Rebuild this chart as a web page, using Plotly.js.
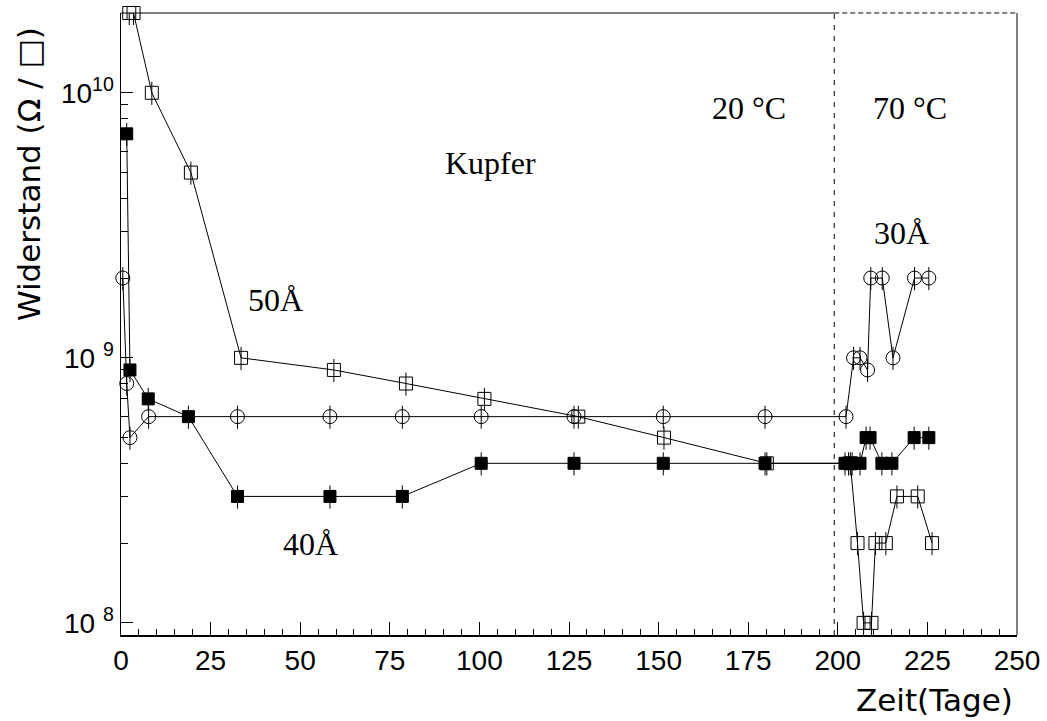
<!DOCTYPE html>
<html>
<head>
<meta charset="utf-8">
<script src="https://cdn.plot.ly/plotly-3.0.1.min.js"></script>
<style>html,body{margin:0;padding:0;background:#fff;}#chart{width:1047px;height:721px;}</style>
</head>
<body>
<div id="chart"></div>
<script>
// ---- data ----
var days50 = [2.3, 3.5, 8.6, 19.5, 33.5, 59.4, 79.5, 101.4, 127.6, 151.5, 180.2, 203.5, 205.5, 207.2, 209.4, 210.5, 213.4, 216.5, 222.3, 226.3];
var res50  = [2e10, 2e10, 1e10, 5e9, 1e9, 9e8, 8e8, 7e8, 6e8, 5e8, 4e8, 4e8, 2e8, 1e8, 1e8, 2e8, 2e8, 3e8, 3e8, 2e8];

var days30 = [0.5, 1.6, 2.5, 7.7, 32.5, 58.3, 78.5, 100.5, 126.4, 151.3, 179.7, 202.3, 204.4, 206.2, 208.3, 209.2, 212.4, 215.4, 221.4, 225.4];
var res30  = [2e9, 8e8, 5e8, 6e8, 6e8, 6e8, 6e8, 6e8, 6e8, 6e8, 6e8, 6e8, 1e9, 1e9, 9e8, 2e9, 2e9, 1e9, 2e9, 2e9];

var days40 = [1.6, 2.5, 7.6, 18.8, 32.5, 58.3, 78.5, 100.5, 126.4, 151.3, 179.7, 202.0, 203.0, 204.0, 206.2, 207.9, 209.0, 212.3, 215.1, 221.3, 225.4];
var res40  = [7e9, 9e8, 7e8, 6e8, 3e8, 3e8, 3e8, 4e8, 4e8, 4e8, 4e8, 4e8, 4e8, 4e8, 4e8, 5e8, 5e8, 4e8, 4e8, 5e8, 5e8];

var errPercent = 10;
var xTickVals = [0, 25, 50, 75, 100, 125, 150, 175, 200, 225, 250];
var yTickVals = [1e8, 1e9, 1e10];
var yTickText = ['10 <sup>8</sup>', '10 <sup>9</sup>', '10<sup>10</sup>'];
var tempSwitchDay = 199;

// ---- helpers ----
var L = 121, R = 30, T = 13, B = 86, W = 1047, H = 721;
var pw = W - L - R, ph = H - T - B;
function px(x) { return (x - L) / pw; }
function py(y) { return (H - B - y) / ph; }

var yMinor = [];
[1e7, 1e8, 1e9, 1e10].forEach(function (d) {
  for (var k = 2; k <= 9; k++) yMinor.push(k * d);
});

function series(x, y, symbol, size) {
  return {
    x: x, y: y, type: 'scatter', mode: 'lines+markers', cliponaxis: false,
    line: {color: '#000', width: 1},
    marker: {symbol: symbol, size: size, color: '#000', line: {color: '#000', width: 1}},
    error_y: {type: 'percent', value: errPercent, symmetric: true, color: '#000', thickness: 1, width: 0},
    hoverinfo: 'x+y'
  };
}

var data = [
  series(days50, res50, 'square-open', 13),
  series(days30, res30, 'circle-open', 14),
  series(days40, res40, 'square', 12)
];

var serif = {family: 'Liberation Serif, Times New Roman, serif', size: 32, color: '#000'};
function lab(text, x, y) {
  return {text: text, xref: 'paper', yref: 'paper', x: px(x), y: py(y),
          xanchor: 'center', yanchor: 'middle', showarrow: false, font: serif};
}

var layout = {
  width: W, height: H,
  margin: {l: L, r: R, t: T, b: B, pad: 0},
  paper_bgcolor: '#fff', plot_bgcolor: '#fff',
  showlegend: false,
  xaxis: {
    range: [0, 250], tickmode: 'array', tickvals: xTickVals,
    ticks: 'inside', ticklen: 13, tickwidth: 1, tickcolor: '#000',
    showline: true, linecolor: '#000', linewidth: 1.5, mirror: false,
    showgrid: false, zeroline: false,
    tickfont: {family: 'Liberation Sans, Arial, sans-serif', size: 28, color: '#000'},
    ticklabelstandoff: 0,
    minor: {dtick: 5, tick0: 0, ticks: 'inside', ticklen: 6, tickwidth: 1, tickcolor: '#000', showgrid: false}
  },
  yaxis: {
    type: 'log', range: [Math.log10(9e7), Math.log10(2e10)],
    tickmode: 'array', tickvals: yTickVals, ticktext: yTickText,
    ticks: 'inside', ticklen: 12, tickwidth: 1, tickcolor: '#000',
    showline: true, linecolor: '#000', linewidth: 1.5, mirror: false,
    showgrid: false, zeroline: false,
    tickfont: {family: 'Liberation Sans, Arial, sans-serif', size: 28, color: '#000'},
    ticklabelstandoff: 0,
    minor: {tickmode: 'array', tickvals: yMinor, ticks: 'inside', ticklen: 7, tickwidth: 1, tickcolor: '#000', showgrid: false}
  },
  shapes: [
    {type: 'line', xref: 'x', yref: 'paper', x0: 0, x1: tempSwitchDay, y0: 1, y1: 1, line: {color: '#000', width: 1}},
    {type: 'line', xref: 'x', yref: 'paper', x0: tempSwitchDay, x1: 250, y0: 1, y1: 1, line: {color: '#000', width: 1, dash: '5px,3px'}},
    {type: 'line', xref: 'paper', yref: 'paper', x0: 1, x1: 1, y0: 0, y1: 1, line: {color: '#000', width: 1}},
    {type: 'line', xref: 'x', yref: 'paper', x0: tempSwitchDay, x1: tempSwitchDay, y0: 0, y1: 1, line: {color: '#000', width: 1, dash: '5px,6px'}}
  ],
  annotations: [
    lab('Kupfer', 490, 163),
    lab('20 °C', 749, 108),
    lab('70 °C', 910, 108),
    lab('30Å', 901, 233),
    lab('50Å', 275, 300),
    lab('40Å', 310, 544),
    {text: 'Widerstand (Ω / □)', textangle: -90, xref: 'paper', yref: 'paper',
     x: px(29), y: py(174), xanchor: 'center', yanchor: 'middle', showarrow: false,
     font: {family: 'DejaVu Sans, sans-serif', size: 31, color: '#000'}},
    {text: 'Zeit(Tage)', xref: 'paper', yref: 'paper',
     x: px(1015), y: py(700), xanchor: 'right', yanchor: 'middle', showarrow: false,
     font: {family: 'DejaVu Sans, sans-serif', size: 31, color: '#000'}}
  ]
};

Plotly.newPlot('chart', data, layout, {displayModeBar: false, staticPlot: true});
</script>
</body>
</html>
